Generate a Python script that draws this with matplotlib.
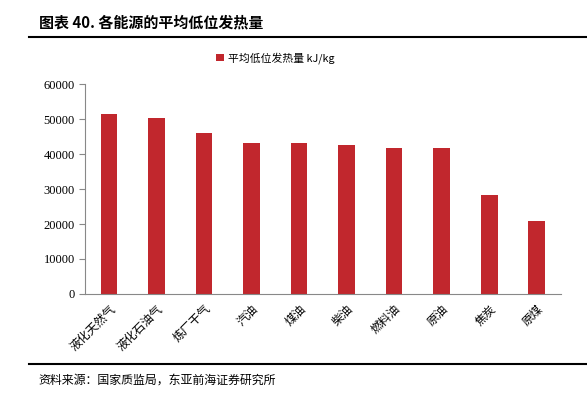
import matplotlib
matplotlib.use("Agg")
import matplotlib.pyplot as plt
from matplotlib.lines import Line2D

plt.rcParams['font.family'] = ['Noto Sans CJK SC', 'DejaVu Sans']

# data
categories = ["液化天然气", "液化石油气", "炼厂干气", "汽油", "煤油", "柴油", "燃料油", "原油", "焦炭", "原煤"]
values = [51498, 50179, 46055, 43070, 43070, 42652, 41816, 41816, 28435, 20908]
series_name = "平均低位发热量 kJ/kg"
yticks = [0, 10000, 20000, 30000, 40000, 50000, 60000]

red = "#C1272D"

fig = plt.figure(figsize=(5.87, 3.93), dpi=100)
ax = fig.add_axes([0.145, 0.252, 0.81, 0.534])

ax.bar(range(len(categories)), values, width=0.35, color=red, label=series_name)
ax.set_xlim(-0.5, len(categories) - 0.5)
ax.set_ylim(0, 60000)
ax.set_yticks(yticks)
ax.set_yticklabels([str(v) for v in yticks], fontsize=9, family="Liberation Serif")
ax.set_xticks(range(len(categories)))
ax.set_xticklabels(categories, rotation=45, ha="right", rotation_mode="anchor", fontsize=8.5)
ax.tick_params(axis="x", length=0, pad=6)
ax.tick_params(axis="y", direction="out", length=4, color="#888888")
for s in ["top", "right"]:
    ax.spines[s].set_visible(False)
ax.spines["left"].set_color("#888888")
ax.spines["bottom"].set_color("#888888")

ax.legend(loc="lower center", bbox_to_anchor=(0.40, 1.05), frameon=False, fontsize=7.8,
          handlelength=0.7, handleheight=0.7, handletextpad=0.4)

# title and source
fig.text(0.066, 0.944, "图表 40. 各能源的平均低位发热量", fontsize=10.8, fontweight="bold", va="center")
fig.add_artist(Line2D([0.05, 1.0], [0.906, 0.906], color="black", lw=1.5))
fig.add_artist(Line2D([0.05, 1.0], [0.074, 0.074], color="black", lw=1.5))
fig.text(0.066, 0.033, "资料来源：国家质监局，东亚前海证券研究所", fontsize=8.6, va="center")

fig.savefig("out.png", dpi=100)
